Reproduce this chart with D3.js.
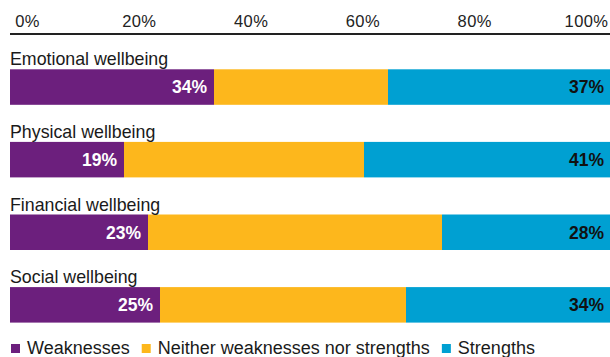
<!DOCTYPE html>
<html>
<head>
<meta charset="utf-8">
<script src="https://cdn.jsdelivr.net/npm/d3@7/dist/d3.min.js"></script>
<style>
  html, body { margin: 0; padding: 0; background: #fff; }
  svg { display: block; font-family: "Liberation Sans", Arial, Helvetica, sans-serif; }
</style>
</head>
<body>
<svg id="chart" width="610" height="357"></svg>
<script>
// Share of respondents rating each area of wellbeing
const categories = ["Emotional wellbeing", "Physical wellbeing", "Financial wellbeing", "Social wellbeing"];
const weaknesses = [34, 19, 23, 25];
const neither    = [29, 40, 49, 41];
const strengths  = [37, 41, 28, 34];
const tickValues = [0, 20, 40, 60, 80, 100];

const seriesKeys   = ["weak", "neither", "strong"];
const seriesNames  = ["Weaknesses", "Neither weaknesses nor strengths", "Strengths"];
const seriesColors = ["#6c1f7d", "#fdb71c", "#00a0d2"];

const rows = categories.map((c, i) => ({
  category: c, weak: weaknesses[i], neither: neither[i], strong: strengths[i]
}));

const svg = d3.select("#chart");

const x = d3.scaleLinear().domain([0, 100]).range([10, 610]);
const xLabels = d3.scaleLinear().domain([0, 100]).range([27, 586]);
const y = d3.scaleBand().domain(categories).range([36.7, 327.1]).padding(0);
const barOffset = 32.6, barH = 35.5;
const color = d3.scaleOrdinal().domain(seriesKeys).range(seriesColors);

// top axis: baseline rule plus percentage labels
svg.append("line")
  .attr("x1", x(0)).attr("x2", x(100))
  .attr("y1", 34).attr("y2", 34)
  .attr("stroke", "#222").attr("stroke-width", 1.8);

const axis = d3.axisTop(xLabels).tickValues(tickValues)
  .tickFormat(d => d + "%").tickSize(0).tickPadding(0);
const gAxis = svg.append("g").attr("transform", "translate(0,27)").call(axis);
gAxis.select(".domain").remove();
gAxis.selectAll("text")
  .attr("font-size", 16.5).attr("letter-spacing", 0.4)
  .attr("fill", "#222").attr("dy", 0)
  .style("font-family", "\"Liberation Sans\", Arial, sans-serif");

// stacked bars
const stacked = d3.stack().keys(seriesKeys)(rows);
svg.append("g").selectAll("g")
  .data(stacked).join("g")
  .attr("fill", d => color(d.key))
  .selectAll("rect")
  .data(d => d).join("rect")
  .attr("x", d => x(d[0]))
  .attr("y", d => y(d.data.category) + barOffset)
  .attr("width", d => x(d[1]) - x(d[0]))
  .attr("height", barH);

// category titles above each bar
svg.append("g").selectAll("text")
  .data(rows).join("text")
  .attr("x", 10)
  .attr("y", d => y(d.category) + barOffset - 4)
  .attr("font-size", 17.8)
  .attr("fill", "#1a1a1a")
  .text(d => d.category);

// value labels: weaknesses inside the purple end, strengths at the right end
svg.append("g").selectAll("text")
  .data(rows).join("text")
  .attr("x", d => x(d.weak) - 7)
  .attr("y", d => y(d.category) + barOffset + barH / 2 + 6.3)
  .attr("text-anchor", "end")
  .attr("font-size", 17.5).attr("font-weight", "bold")
  .attr("fill", "#fff")
  .text(d => d.weak + "%");

svg.append("g").selectAll("text")
  .data(rows).join("text")
  .attr("x", x(100) - 6)
  .attr("y", d => y(d.category) + barOffset + barH / 2 + 6.3)
  .attr("text-anchor", "end")
  .attr("font-size", 17.5).attr("font-weight", "bold")
  .attr("fill", "#111")
  .text(d => d.strong + "%");

// legend along the bottom
const legend = svg.append("g");
let lx = 11;
seriesKeys.forEach((k, i) => {
  legend.append("rect")
    .attr("x", lx).attr("y", 344)
    .attr("width", 9).attr("height", 9)
    .attr("fill", color(k));
  const t = legend.append("text")
    .attr("x", lx + 16).attr("y", 353.5)
    .attr("font-size", 18).attr("fill", "#1a1a1a")
    .text(seriesNames[i]);
  lx += 16 + t.node().getComputedTextLength() + 12;
});
</script>
</body>
</html>
